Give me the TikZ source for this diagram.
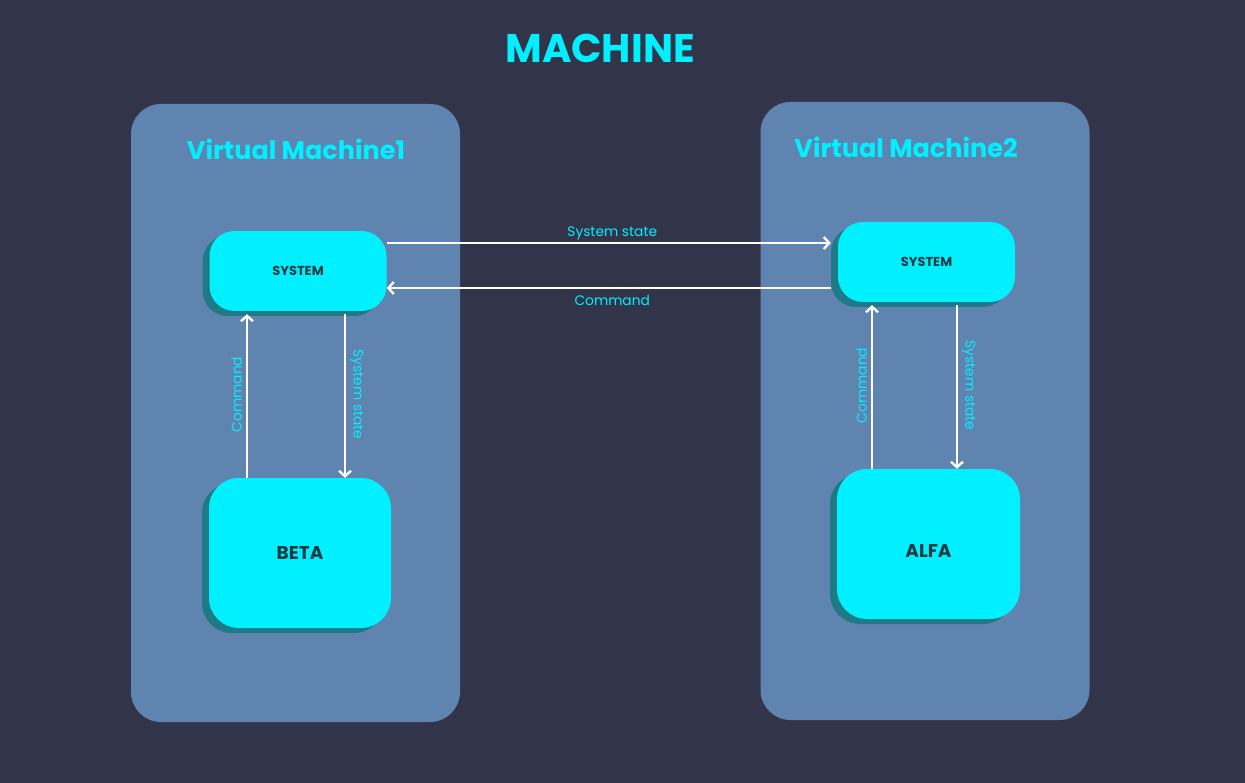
\documentclass[tikz,border=0pt]{standalone}
\usepackage{fontspec}
\setmainfont{Poppins}
\usepackage{tikz}
\usetikzlibrary{arrows.meta,shadows}

\definecolor{bgdark}{HTML}{323549}
\definecolor{panel}{HTML}{6084B0}
\definecolor{aqua}{HTML}{00F0FF}
\definecolor{aquashade}{HTML}{1F7A85}
\definecolor{inktext}{HTML}{113A42}

\tikzset{
    vmpanel/.style={fill=panel, rounded corners=30pt, minimum width=329pt, minimum height=618pt},
    aquabox/.style={fill=aqua, rounded corners=25pt, text=inktext, font=\bfseries,
        general shadow={fill=aquashade, shadow xshift=-7pt, shadow yshift=-5pt}},
    flow/.style={->, draw=white, line width=2.3pt},
    flowlabel/.style={text=aqua, font=\fontsize{13.8}{13.8}\selectfont, inner sep=4pt}
}

\begin{document}
\begin{tikzpicture}[x=1pt, y=-1pt, >={Straight Barb[length=5.5pt,width=12pt]}]
    % Background
    \fill[bgdark] (0,0) rectangle (1245,783);
    \useasboundingbox (0,0) rectangle (1245,783);

    % Title
    \node[text=aqua, font=\fontsize{40}{40}\selectfont\bfseries] (title) at (600,48) {MACHINE};

    % Draw virtual machines
    \node[vmpanel] (vm1) at (295.5,413) {};
    \node[vmpanel] (vm2) at (925,411) {};
    \node[text=aqua, font=\fontsize{25.5}{25.5}\selectfont\bfseries] (vm1name) at (296,149) {Virtual Machine1};
    \node[text=aqua, font=\fontsize{25.5}{25.5}\selectfont\bfseries] (vm2name) at (906,147) {Virtual Machine2};

    % Draw system boxes
    \node[aquabox, minimum width=177pt, minimum height=80pt, font=\fontsize{13}{13}\selectfont\bfseries]
        (sys1) at (298,271) {SYSTEM};
    \node[aquabox, minimum width=177pt, minimum height=80pt, font=\fontsize{13}{13}\selectfont\bfseries]
        (sys2) at (926.5,262) {SYSTEM};

    % Draw programs
    \node[aquabox, minimum width=182pt, minimum height=150pt, rounded corners=30pt,
        font=\fontsize{18.5}{18.5}\selectfont\bfseries] (beta) at (300,553) {BETA};
    \node[aquabox, minimum width=183pt, minimum height=150pt, rounded corners=30pt,
        font=\fontsize{18.5}{18.5}\selectfont\bfseries] (alfa) at (928.5,544) {\raisebox{-13.5pt}[0pt][0pt]{ALFA}};

    % Between machines
    \draw[flow, shorten >=7pt] (sys1.east |- 0,243) -- node[flowlabel, above, inner sep=2pt]{System state} (sys2.west |- 0,243);
    \draw[flow, shorten <=7pt] (sys2.west |- 0,288) -- node[flowlabel, below, inner sep=6pt]{Command} (sys1.east |- 0,288);

    % Inside machine 1
    \draw[flow, shorten >=3pt] (beta.north -| 247,0) -- node[flowlabel, rotate=90, above]{Command} (sys1.south -| 247,0);
    \draw[flow, shorten <=3pt] (sys1.south -| 345,0) -- node[flowlabel, rotate=-90, above]{System state} (beta.north -| 345,0);

    % Inside machine 2
    \draw[flow, shorten >=3pt] (alfa.north -| 872,0) -- node[flowlabel, rotate=90, above]{Command} (sys2.south -| 872,0);
    \draw[flow, shorten <=3pt] (sys2.south -| 957,0) -- node[flowlabel, rotate=-90, above]{System state} (alfa.north -| 957,0);

\end{tikzpicture}
\end{document}
